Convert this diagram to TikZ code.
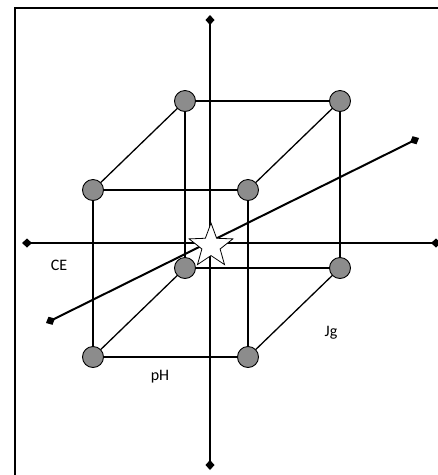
\documentclass[tikz,border=0pt]{standalone}
\usepackage{fontspec}
\setmainfont{Carlito}
\usetikzlibrary{arrows.meta,shapes.geometric}
\tikzset{
  ball/.style={circle,draw=black,line width=0.9pt,fill=black!45,minimum size=21pt,inner sep=0pt},
  edge/.style={line width=1.3pt},
  axis/.style={line width=2pt,{Diamond[length=10pt,width=9pt]}-{Diamond[length=10pt,width=9pt]}},
  lbl/.style={font=\fontsize{16}{19}\selectfont,inner sep=0pt},
  starnode/.style={star,star points=5,star point ratio=2.4,draw=black,fill=white,line width=0.8pt,minimum size=46pt,inner sep=0pt}
}
\begin{document}
\begin{tikzpicture}[x=1pt,y=-1pt]
\useasboundingbox (0,0) rectangle (438,475);
\begin{scope}
\clip (0,0) rectangle (438,475);
\draw[line width=2pt] (15,8) rectangle (450,490);
\end{scope}
% axes
\coordinate (vt) at (210,15);
\coordinate (vb) at (210,470);
\coordinate (hl) at (22,243);
\coordinate (hr) at (441,243);
\coordinate (dl) at (46,323);
\coordinate (dr) at (419,138);
% balls
\node[ball] (b1) at (185,101) {};
\node[ball] (b2) at (340,101) {};
\node[ball] (b3) at (185,268) {};
\node[ball] (b4) at (340,268) {};
\node[ball] (f1) at (93,190) {};
\node[ball] (f2) at (248,190) {};
\node[ball] (f3) at (93,357) {};
\node[ball] (f4) at (248,357) {};
% cube edges
\draw[edge] (b1) -- (b2);
\draw[edge] (b1) -- (b3);
\draw[edge] (b2) -- (b4);
\draw[edge] (b3) -- (b4);
\draw[edge] (f1) -- (f2);
\draw[edge] (f1) -- (f3);
\draw[edge] (f2) -- (f4);
\draw[edge] (f3) -- (f4);
\draw[edge] (f1) -- (b1);
\draw[edge] (f2) -- (b2);
\draw[edge] (f3) -- (b3);
\draw[edge] (f4) -- (b4);
% axes lines
\draw[axis] (vt) -- (vb);
\draw[axis] (hl) -- (hr);
\draw[axis] (dl) -- (dr);
% star
\node[starnode] (st) at (211,246) {};
% labels
\node[lbl] (ce) at (59,265) {CE};
\node[lbl] (jg) at (331,333) {Jg};
\node[lbl] (ph) at (160,377) {pH};
\end{tikzpicture}
\end{document}
